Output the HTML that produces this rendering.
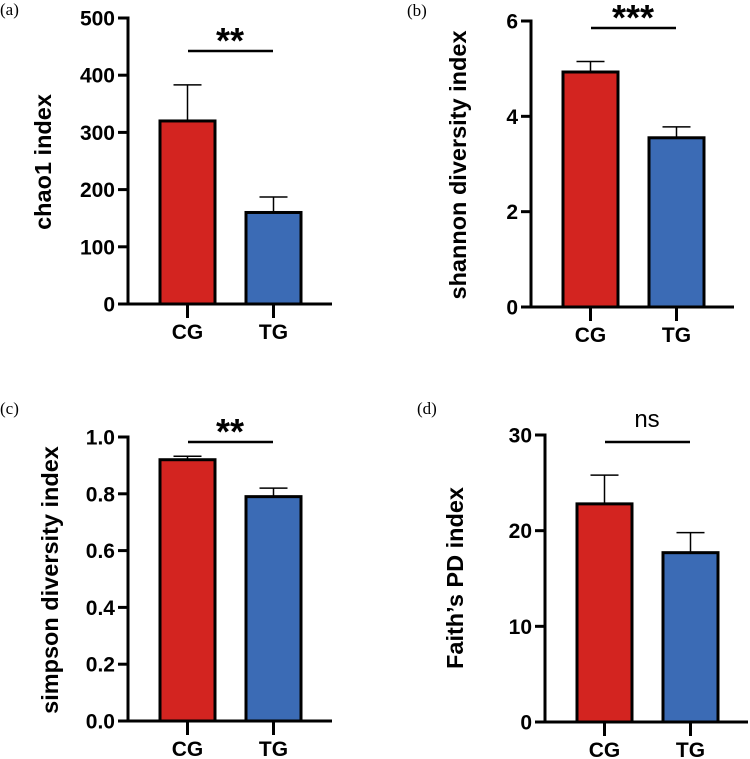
<!DOCTYPE html>
<html><head><meta charset="utf-8"><style>
html,body{margin:0;padding:0;background:#fff;}
svg{display:block;font-family:"Liberation Sans",Arial,sans-serif;}
.pl{font-family:"Liberation Serif",serif;font-size:17px;}
</style></head><body>
<svg id="chart" width="750" height="759" viewBox="0 0 750 759" xmlns="http://www.w3.org/2000/svg"></svg>
<script>
const categories = ["CG", "TG"];
const chaoValues = [320, 160];
const chaoErrors = [63, 27];
const shannonValues = [4.93, 3.55];
const shannonErrors = [0.22, 0.23];
const simpsonValues = [0.92, 0.79];
const simpsonErrors = [0.012, 0.03];
const faithValues = [22.8, 17.7];
const faithErrors = [3.0, 2.1];
const chaoTicks = [0, 100, 200, 300, 400, 500];
const shannonTicks = [0, 2, 4, 6];
const simpsonTicks = [0, 0.2, 0.4, 0.6, 0.8, 1.0];
const simpsonTickLabels = ["0.0","0.2","0.4","0.6","0.8","1.0"];
const faithTicks = [0, 10, 20, 30];
const sigLabels = ["**", "***", "**", "ns"];

const NS = "http://www.w3.org/2000/svg";
const svg = document.getElementById('chart');
const colors = ["#d32420", "#3b6bb5"];

function mk(tag, attrs, parent, txt) {
  const e = document.createElementNS(NS, tag);
  for (const k in attrs) e.setAttribute(k, attrs[k]);
  if (txt !== undefined) e.textContent = txt;
  (parent || svg).appendChild(e);
  return e;
}

function panel(p) {
  const g = mk('g', {});
  
  
  const yMax = p.ticks[p.ticks.length - 1];
  const y = v => p.y0 - (v / yMax) * (p.y0 - p.yTop);
  const bx = [p.ax + 32, p.ax + 118];
  const bw = 55;
  const pl = mk('text', {x: p.lx, y: p.ly, class: 'pl'}, g, '(' + p.id + ')');
  
  
  p.values.forEach((v, i) => {
    const top = y(v + p.errors[i]);
    const eb = mk('line', {x1: bx[i] + bw / 2, x2: bx[i] + bw / 2, y1: y(v), y2: top, stroke: '#000', 'stroke-width': 1.5}, g);
    
    
    const cap = mk('line', {x1: bx[i] + bw / 2 - 14, x2: bx[i] + bw / 2 + 14, y1: top, y2: top, stroke: '#000', 'stroke-width': 1.5}, g);
    
    
    const r = mk('rect', {x: bx[i], y: y(v), width: bw, height: p.y0 - y(v), fill: colors[i], stroke: '#000', 'stroke-width': 3}, g);
    
    
    const ct = mk('line', {x1: bx[i] + bw / 2, x2: bx[i] + bw / 2, y1: p.y0, y2: p.y0 + 14, stroke: '#000', 'stroke-width': 3}, g);
    
    
    const cl = mk('text', {x: bx[i] + bw / 2, y: p.y0 + 35, 'text-anchor': 'middle', 'font-size': 21, 'font-weight': 'bold'}, g, categories[i]);
    
    
  });
  const ya = mk('line', {x1: p.ax, x2: p.ax, y1: p.yTop - 1.5, y2: p.y0, stroke: '#000', 'stroke-width': 3}, g);
  
  
  const xa = mk('line', {x1: p.ax - 1.5, x2: p.xEnd, y1: p.y0, y2: p.y0, stroke: '#000', 'stroke-width': 3}, g);
  
  
  p.ticks.forEach((t, i) => {
    const tk = mk('line', {x1: p.ax - 10, x2: p.ax, y1: y(t), y2: y(t), stroke: '#000', 'stroke-width': 3}, g);
    
    
    const tl = mk('text', {x: p.ax - 13, y: y(t) + 7.5, 'text-anchor': 'end', 'font-size': 21, 'font-weight': 'bold'}, g, p.tickLabels ? p.tickLabels[i] : String(t));
    
    
  });
  const tt = mk('text', {x: 0, y: 0, transform: 'translate(' + p.tx + ',' + p.ty + ') rotate(-90)', 'text-anchor': 'middle', 'font-size': 23.5, 'font-weight': 'bold'}, g, p.title);
  
  
  const sl = mk('line', {x1: p.ax + 60, x2: p.ax + 145, y1: p.sy, y2: p.sy, stroke: '#000', 'stroke-width': 2.5}, g);
  
  
  const isNs = p.sig === 'ns';
  const st = mk('text', {x: p.ax + 102, y: isNs ? p.sy - 15 : p.sy + 2, 'text-anchor': 'middle', 'font-size': isNs ? 24 : 36, 'font-weight': isNs ? 'normal' : 'bold'}, g, p.sig);
  
  
}

panel({id: 'a', ax: 128, y0: 304, yTop: 18, xEnd: 332, values: chaoValues, errors: chaoErrors, ticks: chaoTicks, title: 'chao1 index', tx: 51, ty: 162, sy: 51, sig: sigLabels[0], lx: 0, ly: 15});
panel({id: 'b', ax: 531, y0: 307, yTop: 21, xEnd: 734, values: shannonValues, errors: shannonErrors, ticks: shannonTicks, title: 'shannon diversity index', tx: 466, ty: 165, sy: 28, sig: sigLabels[1], lx: 407, ly: 16});
panel({id: 'c', ax: 128, y0: 721, yTop: 437, xEnd: 332, values: simpsonValues, errors: simpsonErrors, ticks: simpsonTicks, tickLabels: simpsonTickLabels, title: 'simpson diversity index', tx: 58, ty: 580, sy: 442, sig: sigLabels[2], lx: 0, ly: 414});
panel({id: 'd', ax: 545, y0: 722, yTop: 435, xEnd: 748, values: faithValues, errors: faithErrors, ticks: faithTicks, title: 'Faith\u2019s PD index', tx: 463, ty: 578, sy: 442, sig: sigLabels[3], lx: 417, ly: 414});
</script>
</body></html>
